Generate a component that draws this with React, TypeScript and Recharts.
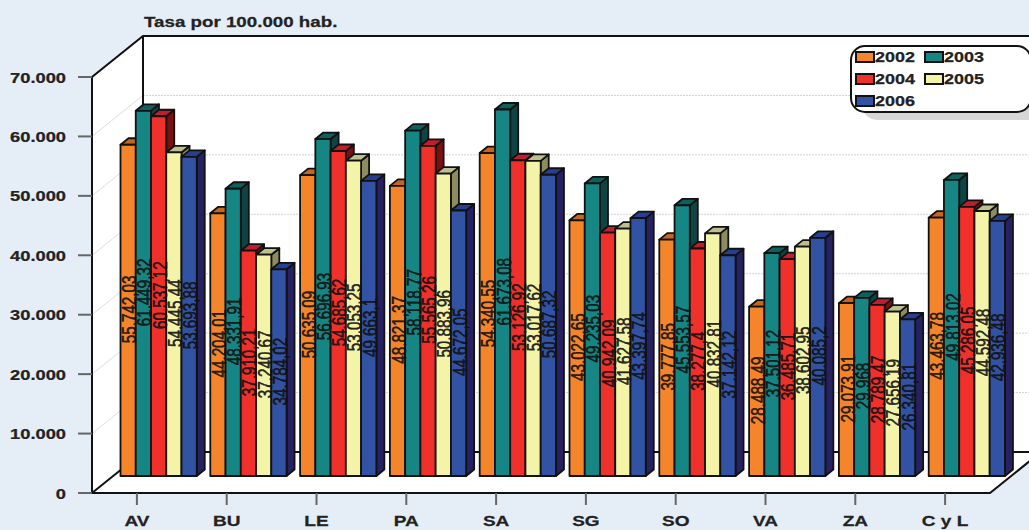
import React from 'react';
import { BarChart, Bar, XAxis, YAxis, Customized, LabelList } from 'recharts';

const categories = ['AV', 'BU', 'LE', 'PA', 'SA', 'SG', 'SO', 'VA', 'ZA', 'C y L'];
const years = ['2002', '2003', '2004', '2005', '2006'];

const values2002 = [55742.03, 44204.01, 50635.09, 48821.37, 54340.55, 43022.65, 39777.85, 28488.49, 29073.91, 43463.78];
const values2003 = [61449.32, 48331.91, 56696.93, 58118.77, 61673.08, 49235.03, 45553.57, 37501.12, 29968, 49813.02];
const values2004 = [60537.12, 37910.21, 54685.62, 55565.26, 53126.92, 40942.09, 38277.4, 36485.71, 28789.47, 45286.05];
const values2005 = [54445.44, 37240.67, 53053.25, 50883.96, 53017.62, 41627.58, 40832.81, 38602.95, 27656.19, 44592.48];
const values2006 = [53693.88, 34784.02, 49663.1, 44672.05, 50687.32, 43397.74, 37142.12, 40085.2, 26340.81, 42936.48];
const yTicks = [0, 10000, 20000, 30000, 40000, 50000, 60000, 70000];

const seriesValues = [values2002, values2003, values2004, values2005, values2006];
const chartData = categories.map((name, i) => {
  const row: any = { name };
  years.forEach((y, s) => { row[y] = seriesValues[s][i]; });
  return row;
});

// front, top and side colours per series
const front = ['#F5852B', '#158683', '#F0302A', '#F4F4A8', '#3253A3'];
const top = ['#C4661E', '#0F5F5D', '#BE1E2D', '#BDBF8F', '#283F90'];
const side = ['#8A4A10', '#0F4444', '#7A1010', '#8C8C60', '#262262'];

const WIDTH = 1029;
const HEIGHT = 530;
const BG = '#E5EDF7';
// plot area = front plane of the 3d box
const LEFT = 92;
const TOP = 77;
const RIGHT = 990;
const BOTTOM = 493;
// depth of the whole box, and how far the bars stand back in it
const DEPTH_X = 51;
const DEPTH_Y = 41;
const BAR_DX = 21.5;
const BAR_DY = 17;
const BAR_DEPTH_X = 8;
const BAR_DEPTH_Y = 6.5;

const FONT = 'Liberation Sans, Arial, sans-serif';

const formatTick = (v: number) => (v === 0 ? '0' : `${v / 1000}.000`);
const formatValue = (v: number) => {
  const [int, dec] = String(v).split('.');
  const grouped = int.slice(0, -3) + '.' + int.slice(-3);
  return dec ? `${grouped},${dec}` : grouped;
};

// Box walls, floor and gridlines drawn behind the bars
const Walls = () => {
  const yFor = (v: number) => BOTTOM - (v / 70000) * (BOTTOM - TOP);
  const backX = LEFT + DEPTH_X;
  const backBottom = BOTTOM - DEPTH_Y;
  const backTop = TOP - DEPTH_Y;
  return (
    <g>
      <polygon
        points={`${LEFT},${TOP} ${backX},${backTop} ${WIDTH + 20},${backTop} ${WIDTH + 20},${backBottom} ${backX},${backBottom} ${LEFT},${BOTTOM}`}
        fill="#fff"
      />
      <polygon
        points={`${LEFT},${BOTTOM} ${backX},${backBottom} ${RIGHT + DEPTH_X},${backBottom} ${RIGHT},${BOTTOM}`}
        fill="#fff"
      />
      {yTicks.slice(1, -1).map((t) => (
        <g key={t}>
          <line x1={LEFT} y1={yFor(t)} x2={backX} y2={yFor(t) - DEPTH_Y} stroke="#DEDEDE" strokeWidth={1} />
          <line x1={backX} y1={yFor(t) - DEPTH_Y} x2={WIDTH} y2={yFor(t) - DEPTH_Y} stroke="#D2D2D2" strokeWidth={1} strokeDasharray="2 1" />
        </g>
      ))}
      <polyline
        points={`${LEFT},${BOTTOM} ${LEFT},${TOP} ${backX},${backTop} ${WIDTH},${backTop}`}
        fill="none"
        stroke="#111"
        strokeWidth={2}
      />
      <line x1={backX} y1={backTop} x2={backX} y2={backBottom} stroke="#111" strokeWidth={2} />
      <polyline
        points={`${LEFT},${BOTTOM} ${backX},${backBottom} ${WIDTH},${backBottom}`}
        fill="none"
        stroke="#111"
        strokeWidth={2}
      />
      <polygon
        points={`${RIGHT},${BOTTOM} ${RIGHT + DEPTH_X},${backBottom} ${WIDTH + 20},${backBottom} ${WIDTH + 20},${BOTTOM}`}
        fill={BG}
      />
      <polyline
        points={`${LEFT},${BOTTOM} ${RIGHT},${BOTTOM} ${RIGHT + DEPTH_X},${backBottom}`}
        fill="none"
        stroke="#111"
        strokeWidth={2}
      />
    </g>
  );
};

const Bar3D = (props: any, s: number) => {
  const { x, y, width, height } = props;
  const l = x + BAR_DX;
  const r = l + width;
  const t = y - BAR_DY;
  const b = t + height;
  const dx = BAR_DEPTH_X;
  const dy = BAR_DEPTH_Y;
  return (
    <g stroke="#111" strokeWidth={1.8} strokeLinejoin="round">
      <polygon points={`${r},${t} ${r + dx},${t - dy} ${r + dx},${b - dy} ${r},${b}`} fill={side[s]} />
      <polygon points={`${l},${t} ${l + dx},${t - dy} ${r + dx},${t - dy} ${r},${t}`} fill={top[s]} />
      <rect x={l} y={t} width={width} height={height} fill={front[s]} />
    </g>
  );
};

const ValueLabel = (props: any) => {
  const { x, y, width, height, value } = props;
  const cx = x + BAR_DX + width / 2 + 1;
  const cy = y - BAR_DY + height / 2 - 1;
  return (
    <text
      transform={`translate(${cx},${cy}) rotate(-90) scale(0.76,1)`}
      textAnchor="middle"
      dy={7}
      fontFamily={FONT}
      fontSize={20}
      fill="#111"
      stroke="#111"
      strokeWidth={0.55}
      fillOpacity={0.9}
    >
      {formatValue(value)}
    </text>
  );
};

const YTick = ({ y, payload }: any) => (
  <text
    transform={`translate(66,${y + 5.5}) scale(1.22,1)`}
    textAnchor="end"
    fontFamily={FONT}
    fontWeight="bold"
    fontSize={15}
    fill="#222"
    stroke="#222"
    strokeWidth={0.25}
  >
    {formatTick(payload.value)}
  </text>
);

const XTick = ({ x, payload }: any) => (
  <text
    transform={`translate(${x},526) scale(1.27,1)`}
    textAnchor="middle"
    fontFamily={FONT}
    fontWeight="bold"
    fontSize={15}
    fill="#222"
    stroke="#222"
    strokeWidth={0.25}
  >
    {payload.value}
  </text>
);

const LegendBox = () => (
  <div style={{ position: 'absolute', left: 850, top: 45, width: 182, height: 68 }}>
    <div style={{ position: 'absolute', left: 12, top: 7, width: 182, height: 68, borderRadius: 15, background: '#D6D6D6' }} />
    <div
      style={{
        position: 'absolute', left: 0, top: 0, width: 178, height: 64, borderRadius: 15,
        background: '#fff', border: '2px solid #111',
      }}
    />
    {years.map((y, i) => (
      <div key={y} style={{ position: 'absolute', left: 5 + (i % 2) * 68.5, top: 4 + Math.floor(i / 2) * 22, height: 20, whiteSpace: 'nowrap' }}>
        <div style={{ position: 'absolute', left: 0, top: 2, width: 16, height: 8, background: front[i], border: '2px solid #111' }} />
        <span
          style={{
            position: 'absolute', left: 20, top: -1, display: 'inline-block', transform: 'scaleX(1.16)', transformOrigin: 'left',
            fontFamily: FONT, fontWeight: 'bold', fontSize: 15.5, color: '#222', WebkitTextStroke: '0.25px #222',
          }}
        >
          {y}
        </span>
      </div>
    ))}
  </div>
);

export default function App() {
  return (
    <div style={{ position: 'absolute', left: 0, top: 0, width: WIDTH, height: HEIGHT, overflow: 'hidden', background: BG }}>
      <BarChart
        width={WIDTH}
        height={HEIGHT}
        data={chartData}
        margin={{ top: TOP, right: WIDTH - RIGHT, left: 0, bottom: 0 }}
        barSize={15.25}
        barGap={0}
      >
        <Customized component={Walls} />
        <XAxis
          dataKey="name"
          height={HEIGHT - BOTTOM}
          interval={0}
          axisLine={false}
          tickLine={{ stroke: '#666', strokeWidth: 2 }}
          tickSize={12}
          tick={<XTick />}
        />
        <YAxis
          width={LEFT}
          domain={[0, 70000]}
          ticks={yTicks}
          axisLine={false}
          tickLine={{ stroke: '#666', strokeWidth: 2 }}
          tickSize={14}
          tick={<YTick />}
        />
        {years.map((y, s) => (
          <Bar key={y} dataKey={y} isAnimationActive={false} shape={(p: any) => Bar3D(p, s)}>
            <LabelList dataKey={y} content={<ValueLabel />} />
          </Bar>
        ))}
        <text
          transform="translate(144,27) scale(1.25,1)"
          fontFamily={FONT}
          fontWeight="bold"
          fontSize={15}
          fill="#222"
          stroke="#222"
          strokeWidth={0.25}
        >
          Tasa por 100.000 hab.
        </text>
      </BarChart>
      <LegendBox />
    </div>
  );
}
